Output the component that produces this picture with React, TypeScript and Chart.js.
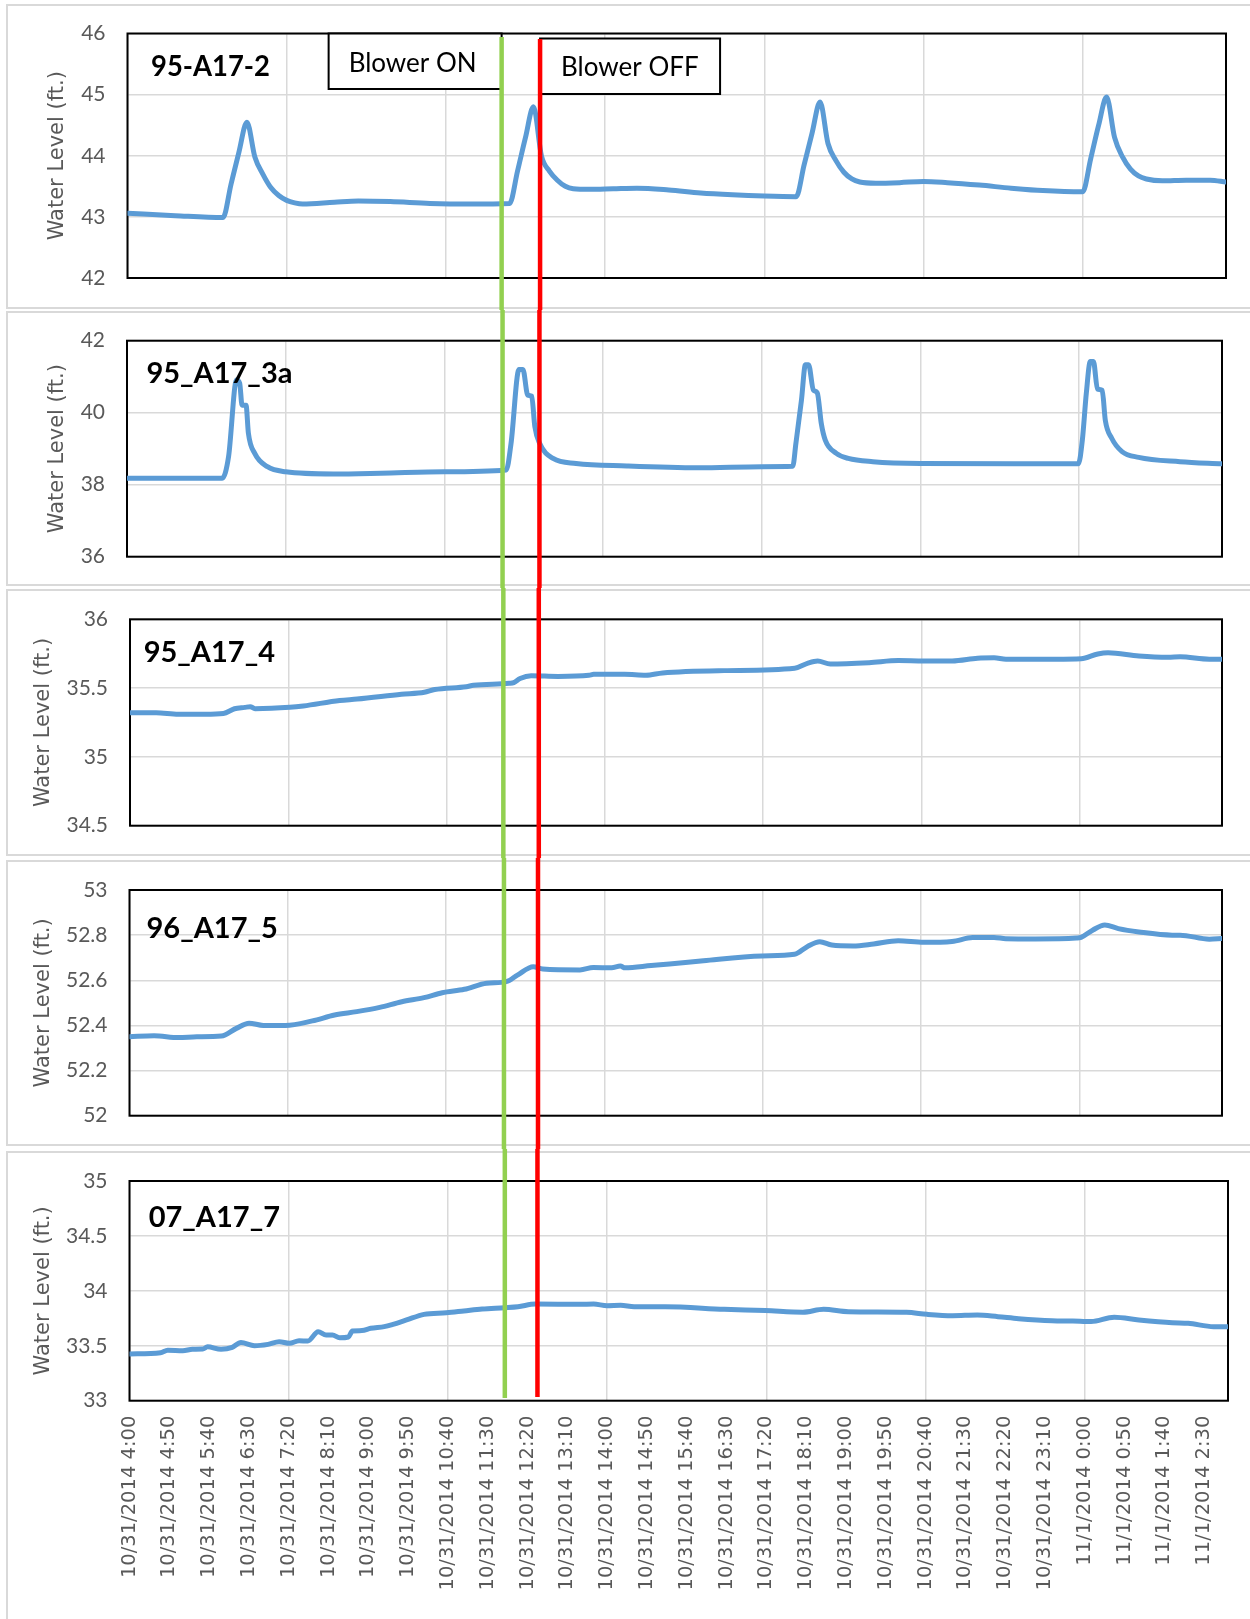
import React, { useEffect, useRef } from "react";
import { Chart, registerables } from "chart.js";

Chart.register(...registerables);

// ---------- DATA ----------
// x values are sample steps of 10 minutes: step 0 = 10/31/2014 4:00, step 138 = 11/1/2014 3:00
const STEP_MAX = 138;
const TICK_EVERY = 5; // one category label every 5 samples (50 min)
const GRID_EVERY = 20; // vertical gridline every 20 samples

const xTickLabels = [
  "10/31/2014 4:00", "10/31/2014 4:50", "10/31/2014 5:40", "10/31/2014 6:30",
  "10/31/2014 7:20", "10/31/2014 8:10", "10/31/2014 9:00", "10/31/2014 9:50",
  "10/31/2014 10:40", "10/31/2014 11:30", "10/31/2014 12:20", "10/31/2014 13:10",
  "10/31/2014 14:00", "10/31/2014 14:50", "10/31/2014 15:40", "10/31/2014 16:30",
  "10/31/2014 17:20", "10/31/2014 18:10", "10/31/2014 19:00", "10/31/2014 19:50",
  "10/31/2014 20:40", "10/31/2014 21:30", "10/31/2014 22:20", "10/31/2014 23:10",
  "11/1/2014 0:00", "11/1/2014 0:50", "11/1/2014 1:40", "11/1/2014 2:30",
];

// where the hand-drawn marker lines cross each panel (in sample steps), read per panel
const blowerOnStep = [47.0, 47.33, 47.18, 47.3, 47.15];
const blowerOffStep = [51.83, 51.98, 51.66, 51.6, 51.25];

// [step, water level ft]
const well95A17_2: [number, number][] = [
  [0, 43.06], [6, 43.02], [12, 42.99], [13, 43.53], [14, 44.06], [15, 44.55], [16, 43.98],
  [17, 43.7], [18, 43.48], [19, 43.35], [20, 43.27], [21, 43.23], [22, 43.21], [26, 43.24],
  [29, 43.26], [33, 43.25], [38, 43.22], [43, 43.21], [48, 43.22], [49, 43.75], [50, 44.3],
  [51, 44.8], [52, 44.0], [53, 43.75], [54, 43.6], [55, 43.5], [56, 43.46], [58, 43.45],
  [61, 43.46], [64, 43.47], [68, 43.44], [72, 43.39], [76, 43.36], [80, 43.34], [84, 43.33],
  [85, 43.85], [86, 44.37], [87, 44.88], [88, 44.2], [89, 43.92], [90, 43.73], [91, 43.62],
  [92, 43.57], [94, 43.55], [97, 43.56], [100, 43.58], [103, 43.56], [107, 43.52], [111, 43.47],
  [115, 43.43], [120, 43.41], [121, 43.95], [122, 44.5], [123, 44.96], [124, 44.3], [125, 43.98],
  [126, 43.78], [127, 43.67], [128, 43.62], [130, 43.59], [133, 43.6], [136, 43.6], [138, 43.57],
];

const well95A17_3a: [number, number][] = [
  [0, 38.18], [12, 38.18], [12.8, 38.78], [13.8, 40.91], [14.2, 40.82], [14.5, 40.21], [15, 40.21],
  [15.3, 39.43], [16.1, 38.87], [17.7, 38.5], [20, 38.36], [26, 38.3], [32, 38.32], [40, 38.36],
  [47.8, 38.41], [48.4, 39.15], [49.4, 41.2], [49.9, 41.2], [50.5, 40.49], [51, 40.46], [51.4, 39.61],
  [52, 39.15], [53.7, 38.73], [56.6, 38.59], [63, 38.52], [72, 38.47], [80, 38.5], [83.9, 38.51],
  [84.3, 39.15], [85, 40.35], [85.5, 41.33], [85.9, 41.33], [86.5, 40.63], [87, 40.55], [87.5, 39.7],
  [88, 39.24], [89.4, 38.87], [90.9, 38.73], [94, 38.64], [100, 38.59], [112, 38.58], [119.9, 38.58],
  [120.4, 39.24], [120.9, 40.54], [121.4, 41.42], [121.8, 41.42], [122.3, 40.66], [122.9, 40.62],
  [123.3, 39.78], [124.1, 39.29], [125.4, 38.92], [127.5, 38.76], [132.7, 38.64], [138, 38.58],
];

const well95A17_4: [number, number][] = [
  [0, 35.32], [3.3, 35.32], [6.1, 35.31], [9.5, 35.31], [11.8, 35.315], [13.2, 35.35], [14.5, 35.36],
  [15.2, 35.365], [15.8, 35.35], [20.2, 35.36], [21.9, 35.37], [26.5, 35.41], [28.7, 35.42],
  [34.3, 35.455], [37.2, 35.47], [38.5, 35.49], [42.5, 35.51], [43.4, 35.52], [47.9, 35.535],
  [48.5, 35.54], [49.3, 35.57], [50.7, 35.59], [54.1, 35.585], [58, 35.593], [58.6, 35.6],
  [62.5, 35.6], [65.2, 35.593], [67.3, 35.61], [75.1, 35.627], [84, 35.644], [85.6, 35.68],
  [86.9, 35.697], [88.5, 35.675], [93.4, 35.685], [97.1, 35.7], [100.3, 35.697], [103.9, 35.697],
  [107.1, 35.717], [109.2, 35.72], [110.7, 35.71], [117, 35.71], [120.2, 35.713], [122.3, 35.748],
  [123.6, 35.757], [127.5, 35.733], [131.2, 35.724], [132.7, 35.727], [136.4, 35.71], [138, 35.71],
];

const well96A17_5: [number, number][] = [
  [0, 52.35], [3.1, 52.354], [6.2, 52.346], [8.5, 52.35], [11.6, 52.353], [13.5, 52.387],
  [15.1, 52.41], [16.9, 52.4], [19.7, 52.4], [23.1, 52.42], [25.9, 52.446], [28.7, 52.461],
  [31.6, 52.48], [34.4, 52.505], [37.2, 52.523], [39.5, 52.545], [42.3, 52.56], [45.1, 52.587],
  [47.6, 52.594], [49, 52.623], [51, 52.66], [52.2, 52.65], [56.9, 52.646], [58.6, 52.657],
  [60.9, 52.655], [62, 52.663], [62.6, 52.655], [65.9, 52.665], [68.2, 52.672], [72.5, 52.687],
  [79.9, 52.708], [84, 52.715], [85.6, 52.749], [87.2, 52.771], [88.7, 52.756], [91.4, 52.752],
  [94, 52.761], [97.1, 52.775], [100.3, 52.768], [103.9, 52.772], [106.5, 52.789], [109.2, 52.79],
  [110.7, 52.784], [114.4, 52.783], [119.6, 52.787], [120.2, 52.79], [121.7, 52.823], [123.2, 52.845],
  [124.9, 52.829], [127.5, 52.814], [131.7, 52.8], [132.7, 52.8], [136.4, 52.782], [138, 52.785],
];

const well07A17_7: [number, number][] = [
  [0, 33.425], [3.9, 33.437], [4.8, 33.46], [6.7, 33.455], [7.9, 33.468], [9.2, 33.47], [9.8, 33.49],
  [11.5, 33.468], [12.9, 33.485], [14, 33.53], [15.7, 33.5], [17.4, 33.513], [18.8, 33.537],
  [20.1, 33.522], [21.3, 33.546], [22.4, 33.543], [23.7, 33.628], [24.7, 33.598], [25.5, 33.598],
  [26.4, 33.573], [27.5, 33.58], [28, 33.635], [29.2, 33.638], [30.3, 33.659], [32, 33.674],
  [33.1, 33.695], [34.8, 33.735], [37, 33.786], [39.8, 33.8], [42, 33.817], [44.3, 33.835],
  [47.1, 33.847], [48.8, 33.856], [51, 33.88], [56.6, 33.877], [58.3, 33.88], [60, 33.865],
  [61.7, 33.868], [63.4, 33.856], [67.3, 33.856], [74.7, 33.832], [79.9, 33.82], [84.6, 33.805],
  [87.2, 33.832], [90.3, 33.81], [97.6, 33.805], [100.2, 33.786], [103.4, 33.774], [106.5, 33.78],
  [109.1, 33.765], [111.7, 33.747], [115.9, 33.728], [118.5, 33.725], [120.8, 33.72], [123.7, 33.759],
  [126.8, 33.735], [131, 33.71], [133, 33.705], [136.2, 33.674], [138, 33.674],
];

// ---------- LAYOUT ----------
const PAGE_W = 1250;
const PAGE_H = 1619;
const LINE_COLOR = "#5B9BD5";
const GRID = "#d9d9d9";
const AXIS_TEXT = "#595959";
const CALIBRI_LIKE = "Lato, 'Open Sans', sans-serif";
const VERDANA_LIKE = "'DejaVu Sans', Verdana, sans-serif";

// vertical marker lines, page coords of their ends
const GREEN_TOP = 37, GREEN_BOTTOM = 1398;
const RED_TOP = 39, RED_BOTTOM = 1397;

type PanelCfg = {
  idx: number;
  name: string;
  series: [number, number][];
  yMin: number; yMax: number; yStep: number;
  bandTop: number; bandBottom: number;
  frameTop: number; frameBottom: number;
  plot: { l: number; t: number; r: number; b: number };
  namePos: [number, number];
  nameMaxW: number;
  yTitlePad: number;
  showX: boolean;
  boxes: boolean;
};

const panels: PanelCfg[] = [
  { idx: 0, name: "95-A17-2", series: well95A17_2, yMin: 42, yMax: 46, yStep: 1,
    bandTop: 0, bandBottom: 310, frameTop: 5, frameBottom: 308,
    plot: { l: 127.5, t: 33.5, r: 1226, b: 278 }, namePos: [23.5, 42.5], nameMaxW: 119,
    yTitlePad: 45, showX: false, boxes: true },
  { idx: 1, name: "95_A17_3a", series: well95A17_3a, yMin: 36, yMax: 42, yStep: 2,
    bandTop: 310, bandBottom: 588, frameTop: 312, frameBottom: 585,
    plot: { l: 127, t: 340.7, r: 1222, b: 556.7 }, namePos: [19.4, 42], nameMaxW: 400,
    yTitlePad: 45, showX: false, boxes: false },
  { idx: 2, name: "95_A17_4", series: well95A17_4, yMin: 34.5, yMax: 36, yStep: 0.5,
    bandTop: 588, bandBottom: 858, frameTop: 590, frameBottom: 855,
    plot: { l: 130, t: 619.3, r: 1222, b: 825.7 }, namePos: [13.7, 42.4], nameMaxW: 400,
    yTitlePad: 31, showX: false, boxes: false },
  { idx: 3, name: "96_A17_5", series: well96A17_5, yMin: 52, yMax: 53, yStep: 0.2,
    bandTop: 858, bandBottom: 1149, frameTop: 861, frameBottom: 1145,
    plot: { l: 129.5, t: 890, r: 1222, b: 1115.7 }, namePos: [17, 48.3], nameMaxW: 400,
    yTitlePad: 31, showX: false, boxes: false },
  { idx: 4, name: "07_A17_7", series: well07A17_7, yMin: 33, yMax: 35, yStep: 0.5,
    bandTop: 1149, bandBottom: PAGE_H, frameTop: 1152, frameBottom: 1630,
    plot: { l: 129.5, t: 1181, r: 1228, b: 1400.7 }, namePos: [19.2, 45.7], nameMaxW: 400,
    yTitlePad: 31, showX: true, boxes: false },
];

const fmtY = (v: number | string) => {
  const n = typeof v === "string" ? parseFloat(v) : v;
  return String(parseFloat(n.toFixed(2)));
};

const decorPlugin = {
  id: "decor",
  beforeDraw(chart: any, _a: any, o: any) {
    const { ctx } = chart;
    ctx.save();
    ctx.fillStyle = "#ffffff";
    ctx.fillRect(0, 0, chart.width, chart.height);
    ctx.strokeStyle = GRID;
    ctx.lineWidth = 2;
    ctx.strokeRect(7, o.frameTop - o.bandTop, PAGE_W + 20, o.frameBottom - o.frameTop);
    ctx.restore();
  },
  beforeDatasetsDraw(chart: any) {
    const { ctx, chartArea: a } = chart;
    ctx.save();
    ctx.strokeStyle = "#000000";
    ctx.lineWidth = 2;
    ctx.strokeRect(a.left, a.top, a.right - a.left, a.bottom - a.top);
    ctx.restore();
  },
  afterDraw(chart: any, _a: any, o: any) {
    const { ctx, chartArea: a } = chart;
    const xs = chart.scales.x;
    ctx.save();
    ctx.fillStyle = "#000000";
    ctx.font = `bold 29px ${CALIBRI_LIKE}`;
    ctx.textAlign = "left";
    ctx.textBaseline = "alphabetic";
    ctx.fillText(o.name, a.left + o.namePos[0], a.top + o.namePos[1], o.nameMaxW);

    const gx = xs.getPixelForValue(blowerOnStep[o.idx]);
    const rx = xs.getPixelForValue(blowerOffStep[o.idx]);

    if (o.boxes) {
      ctx.lineWidth = 2;
      ctx.strokeStyle = "#000000";
      const onW = 173, onH = 55.5;
      ctx.fillStyle = "#ffffff";
      ctx.fillRect(gx - onW, a.top, onW, onH);
      ctx.strokeRect(gx - onW, a.top, onW, onH);
      const offW = 180, offH = 55.5, offTop = a.top + 5;
      ctx.fillRect(rx, offTop, offW, offH);
      ctx.strokeRect(rx, offTop, offW, offH);
      ctx.fillStyle = "#000000";
      ctx.font = `26px ${CALIBRI_LIKE}`;
      ctx.fillText("Blower ON", gx - onW + 20, a.top + 38.5);
      ctx.fillText("Blower OFF", rx + 21, offTop + 37.5);
    }

    const drawV = (x: number, color: string, topAbs: number, botAbs: number) => {
      const y0 = Math.max(0, topAbs - o.bandTop);
      const y1 = Math.min(chart.height, botAbs - o.bandTop);
      if (y1 <= y0) return;
      ctx.strokeStyle = color;
      ctx.lineWidth = 4.5;
      ctx.lineCap = "butt";
      ctx.beginPath();
      ctx.moveTo(x, y0);
      ctx.lineTo(x, y1);
      ctx.stroke();
    };
    drawV(gx, "#92D050", GREEN_TOP, GREEN_BOTTOM);
    drawV(rx, "#FF0000", RED_TOP, RED_BOTTOM);
    ctx.restore();
  },
};

function Panel({ cfg }: { cfg: PanelCfg }) {
  const ref = useRef<HTMLCanvasElement | null>(null);
  const h = cfg.bandBottom - cfg.bandTop;
  useEffect(() => {
    if (!ref.current) return;
    const p = cfg.plot;
    const xAxisH = cfg.showX ? cfg.bandBottom - p.b : 0;
    const chart = new Chart(ref.current, {
      type: "line",
      data: {
        datasets: [
          {
            label: cfg.name,
            data: cfg.series.map(([x, y]) => ({ x, y })),
            borderColor: LINE_COLOR,
            borderWidth: 5,
            pointRadius: 0,
            cubicInterpolationMode: "monotone",
            borderJoinStyle: "round",
            borderCapStyle: "round",
          },
        ],
      },
      options: {
        animation: false,
        responsive: false,
        maintainAspectRatio: false,
        devicePixelRatio: 1,
        layout: {
          autoPadding: false,
          padding: {
            left: 0,
            right: PAGE_W - p.r,
            top: p.t - cfg.bandTop,
            bottom: cfg.showX ? 0 : cfg.bandBottom - p.b,
          },
        },
        plugins: {
          legend: { display: false },
          tooltip: { enabled: false },
          decor: {
            idx: cfg.idx,
            name: cfg.name,
            bandTop: cfg.bandTop,
            frameTop: cfg.frameTop,
            frameBottom: cfg.frameBottom,
            namePos: cfg.namePos,
            nameMaxW: cfg.nameMaxW,
            boxes: cfg.boxes,
          },
        } as any,
        scales: {
          x: {
            type: "linear",
            min: 0,
            max: STEP_MAX,
            afterBuildTicks: (s: any) => {
              s.ticks = xTickLabels.map((_, k) => ({ value: k * TICK_EVERY }));
            },
            afterFit: (s: any) => {
              s.height = xAxisH;
              s.paddingLeft = 0;
              s.paddingRight = 0;
            },
            ticks: {
              display: cfg.showX,
              autoSkip: false,
              maxRotation: 90,
              minRotation: 90,
              color: AXIS_TEXT,
              padding: 15,
              font: { family: VERDANA_LIKE, size: 19.5 },
              callback: (v: any) => xTickLabels[Math.round(Number(v) / TICK_EVERY)] ?? "",
            },
            grid: {
              color: (c: any) =>
                c.tick && Math.round(c.tick.value) % GRID_EVERY === 0 ? GRID : "rgba(0,0,0,0)",
              lineWidth: 1.5,
              drawTicks: false,
            },
            border: { display: false },
          },
          y: {
            type: "linear",
            min: cfg.yMin,
            max: cfg.yMax,
            afterFit: (s: any) => {
              s.width = p.l;
              s.paddingTop = 0;
              s.paddingBottom = 0;
            },
            ticks: {
              stepSize: cfg.yStep,
              color: AXIS_TEXT,
              padding: 22,
              font: { family: CALIBRI_LIKE, size: 21 },
              callback: (v: any) => fmtY(v),
            },
            grid: { color: GRID, lineWidth: 1.5, drawTicks: false },
            border: { display: false },
            title: {
              display: true,
              text: "Water Level (ft.)",
              color: AXIS_TEXT,
              font: { family: VERDANA_LIKE, size: 21 },
              padding: { top: cfg.yTitlePad, bottom: 0 },
            },
          },
        },
      },
      plugins: [decorPlugin as any],
    } as any);
    return () => chart.destroy();
  }, []);
  return (
    <canvas
      ref={ref}
      width={PAGE_W}
      height={h}
      style={{ position: "absolute", left: 0, top: cfg.bandTop, width: PAGE_W, height: h, display: "block" }}
    />
  );
}

export default function App() {
  return (
    <div
      style={{
        position: "absolute",
        left: 0,
        top: 0,
        width: PAGE_W,
        height: PAGE_H,
        overflow: "hidden",
        background: "#ffffff",
      }}
    >
      {panels.map((cfg) => (
        <Panel key={cfg.name} cfg={cfg} />
      ))}
    </div>
  );
}
